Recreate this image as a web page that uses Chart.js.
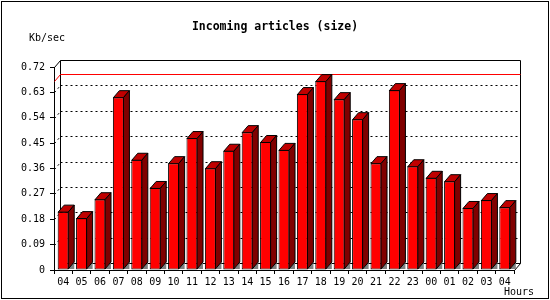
<!DOCTYPE html>
<html>
<head>
<meta charset="utf-8">
<script src="https://cdn.jsdelivr.net/npm/chart.js@4.4.0/dist/chart.umd.min.js"></script>
<style>
  html, body { margin: 0; padding: 0; background: #fff; }
  canvas { display: block; }
</style>
</head>
<body>
<canvas id="chart" width="550" height="300"></canvas>
<script>
// values
const hours = ['04', '05', '06', '07', '08', '09', '10', '11', '12', '13', '14', '15', '16',
               '17', '18', '19', '20', '21', '22', '23', '00', '01', '02', '03', '04'];
const kbPerSec = [0.207, 0.184, 0.251, 0.613, 0.391, 0.291, 0.379, 0.468, 0.361, 0.423, 0.489, 0.454, 0.426,
                  0.624, 0.670, 0.606, 0.535, 0.379, 0.638, 0.368, 0.327, 0.315, 0.220, 0.248, 0.223];
const yTicks = [0, 0.09, 0.18, 0.27, 0.36, 0.45, 0.54, 0.63, 0.72];

const FRONT  = '#FF0000';
const TOP    = '#C00000';
const SIDE   = '#800000';
const SHADOW = '#808080';
const INK    = '#000000';
const MONO   = "'DejaVu Sans Mono', monospace";
const DX = 6, DY = 7;   // depth of the fake 3D

const peak = Math.max(...kbPerSec);

/* back wall, dotted grid, max line, 3D bar faces, texts */
const box3d = {
  id: 'box3d',
  beforeDraw(chart) {
    const { ctx, width, height } = chart;
    ctx.save();
    ctx.fillStyle = '#fff';
    ctx.fillRect(0, 0, width, height);
    ctx.strokeStyle = INK;
    ctx.lineWidth = 1;
    ctx.strokeRect(1.5, 1.5, 547, 297);

    ctx.fillStyle = INK;
    ctx.font = 'bold 11.5px ' + MONO;
    ctx.textAlign = 'center';
    ctx.textBaseline = 'middle';
    ctx.fillText('Incoming articles (size)', 275, 27);
    ctx.font = '10px ' + MONO;
    ctx.textAlign = 'left';
    ctx.textBaseline = 'alphabetic';
    ctx.fillText('Kb/sec', 29, 41);
    ctx.fillText('Hours', 504, 295);
    ctx.restore();
  },
  beforeDatasetsDraw(chart) {
    const { ctx, chartArea: a, scales: { y } } = chart;
    const L = a.left + 0.5, R = a.right + 0.5, T = a.top + 0.5, B = a.bottom + 0.5;
    ctx.save();
    ctx.lineWidth = 1;
    ctx.strokeStyle = INK;
    ctx.beginPath();
    ctx.moveTo(L + DX, B - DY);
    ctx.lineTo(L + DX, T - DY);
    ctx.lineTo(R + DX, T - DY);
    ctx.lineTo(R + DX, B - DY);
    ctx.lineTo(L + DX, B - DY);
    ctx.moveTo(L, T); ctx.lineTo(L + DX, T - DY);
    ctx.moveTo(R, B); ctx.lineTo(R + DX, B - DY);
    ctx.stroke();

    ctx.setLineDash([2, 3]);
    ctx.beginPath();
    yTicks.forEach(v => {
      if (v <= 0 || v >= 0.72) return;
      const py = Math.round(y.getPixelForValue(v)) + 0.5;
      ctx.moveTo(L, py); ctx.lineTo(L + DX, py - DY);
      ctx.moveTo(L + DX, py - DY); ctx.lineTo(R + DX, py - DY);
    });
    ctx.stroke();
    ctx.setLineDash([]);

    const pm = Math.round(y.getPixelForValue(peak)) + 0.5;
    ctx.strokeStyle = FRONT;
    ctx.beginPath();
    ctx.moveTo(L, pm); ctx.lineTo(L + DX, pm - DY);
    ctx.lineTo(R + DX, pm - DY);
    ctx.stroke();
    ctx.restore();
  },
  afterDatasetsDraw(chart) {
    const { ctx } = chart;
    const meta = chart.getDatasetMeta(0);
    ctx.save();
    ctx.lineWidth = 1;
    ctx.strokeStyle = INK;
    meta.data.forEach(bar => {
      const { x, y, width, base } = bar.getProps(['x', 'y', 'width', 'base'], true);
      const x1 = x - width / 2 + 0.5;
      const x2 = x + width / 2 - 0.5;
      const t = y + 0.5;
      const b = base - 0.5;

      ctx.fillStyle = SHADOW;
      ctx.beginPath();
      ctx.moveTo(x2, b); ctx.lineTo(x2 + DX, b - DY); ctx.lineTo(x2 + DX, b);
      ctx.closePath();
      ctx.fill();

      ctx.fillStyle = TOP;
      ctx.beginPath();
      ctx.moveTo(x1, t); ctx.lineTo(x1 + DX, t - DY); ctx.lineTo(x2 + DX, t - DY); ctx.lineTo(x2, t);
      ctx.closePath();
      ctx.fill(); ctx.stroke();

      ctx.fillStyle = SIDE;
      ctx.beginPath();
      ctx.moveTo(x2, t); ctx.lineTo(x2 + DX, t - DY); ctx.lineTo(x2 + DX, b - DY); ctx.lineTo(x2, b);
      ctx.closePath();
      ctx.fill(); ctx.stroke();
    });
    ctx.restore();
  }
};

new Chart(document.getElementById('chart'), {
  type: 'bar',
  data: {
    labels: hours,
    datasets: [{
      data: kbPerSec,
      backgroundColor: FRONT,
      borderColor: INK,
      borderWidth: 1,
      borderSkipped: false,
      barPercentage: 0.6,
      categoryPercentage: 1.0,
    }],
  },
  options: {
    responsive: false,
    animation: false,
    layout: { padding: { top: 67, right: 36, left: 0, bottom: 0 } },
    plugins: {
      legend: { display: false },
      tooltip: { enabled: false },
      title: { display: false },
    },
    scales: {
      x: {
        grid: { drawOnChartArea: false, drawTicks: true, tickLength: 4, color: INK, offset: true },
        border: { display: true, color: INK, width: 1 },
        ticks: { color: INK, font: { family: MONO, size: 10 }, padding: 2, autoSkip: false, maxRotation: 0 },
        afterFit(s) { s.height = 30; },
      },
      y: {
        min: 0,
        max: 0.72,
        afterBuildTicks(s) { s.ticks = yTicks.map(v => ({ value: v })); },
        grid: { drawOnChartArea: false, drawTicks: true, tickLength: 4, color: INK },
        border: { display: true, color: INK, width: 1 },
        ticks: {
          color: INK,
          font: { family: MONO, size: 10 },
          padding: 5,
          callback: v => (v === 0 ? '0' : v.toFixed(2)),
        },
        afterFit(s) { s.width = 54; },
      },
    },
  },
  plugins: [box3d],
});
</script>
</body>
</html>
